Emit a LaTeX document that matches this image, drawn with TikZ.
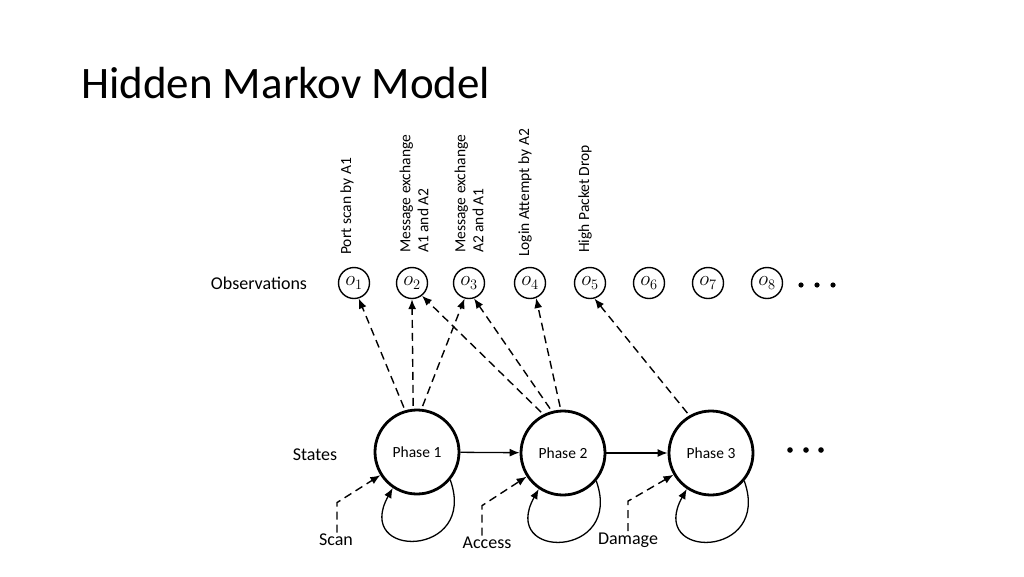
\documentclass[tikz,border=0pt]{standalone}
\usepackage{fontspec}
\setmainfont{Carlito}
\usetikzlibrary{arrows.meta,positioning,calc}

\begin{document}
\begin{tikzpicture}[
        x=1pt, y=1pt,
        every node/.style={font=\fontsize{18}{21}\selectfont},
        obs/.style={circle, draw, line width=1.4pt, minimum size=31pt, inner sep=0pt, font=\fontsize{22}{26}\selectfont},
        state/.style={circle, draw, line width=2.8pt, minimum size=84pt, inner sep=0pt, font=\fontsize{15.5}{18}\selectfont},
        evt/.style={rotate=90, anchor=west, align=left, inner sep=0pt, font=\fontsize{15.5}{18}\selectfont},
        emit/.style={-{Latex[length=10pt,width=8pt]}, dash pattern=on 8pt off 5pt, line width=1.4pt},
        trans/.style={-{Latex[length=10pt,width=8pt]}, line width=1.3pt}
    ]
        \fill[white] (0,0) rectangle (1024,-576);
        \useasboundingbox (0,0) rectangle (1024,-576);

        \node[anchor=base west, inner sep=0pt, font=\fontsize{45}{50}\selectfont] (title) at (81,-98) {Hidden Markov Model};

        \node (obslabel) at (259,-283) {Observations};
        \node (statelabel) at (315,-455) {States};

        \foreach \i/\x in {1/354,2/412,3/469,4/530,5/590,6/649,7/708,8/767}
            \node[obs] (o\i) at (\x,-283) {$o_{\i}$};
        \foreach \x in {801,817,833}
            \fill (\x,-285) circle (2.6pt);

        \node[evt] (ev1) at (347,-255) {Port scan by A1};
        \node[evt] (ev2) at (414,-253) {Message exchange\\A1 and A2};
        \node[evt] (ev3) at (469,-253) {Message exchange\\A2 and A1};
        \node[evt] (ev4) at (525,-257) {Login Attempt by A2};
        \node[evt] (ev5) at (585,-253) {High Packet Drop};

        \node[state] (phase1) at (417,-452) {Phase 1};
        \node[state] (phase2) at (563,-453) {Phase 2};
        \node[state] (phase3) at (711,-453) {Phase 3};
        \foreach \x in {790,806,821}
            \fill (\x,-450) circle (2.8pt);

        \draw[trans] (phase1) -- (phase2);
        \draw[trans] (phase2) -- (phase3);
        \foreach \s in {phase1,phase2,phase3}
            \draw[trans] (\s.-40) .. controls +(28,-78) and +(-40,-72) .. (\s.-124);

        \foreach \s/\a/\o/\b in {phase1/106/o1/-73, phase1/95/o2/-90, phase1/84/o3/-106,
                phase2/117/o2/-52, phase2/105/o3/-72, phase2/93/o4/-68, phase3/120/o5/-74}
            \draw[emit, shorten <=3pt] (\s.\a) -- (\o.\b);

        \node (scan) at (336,-540) {Scan};
        \node (access) at (487,-543) {Access};
        \node (damage) at (628,-540) {Damage};

        \draw[emit] ($(scan.north)+(1,-2)$) -- ++(0,30) -- (phase1);
        \draw[emit] ($(access.north)+(-5,-2)$) -- ++(0,30) -- (phase2);
        \draw[emit] ($(damage.north)+(0,-2)$) -- ++(0,30) -- (phase3);
    \end{tikzpicture}
\end{document}
